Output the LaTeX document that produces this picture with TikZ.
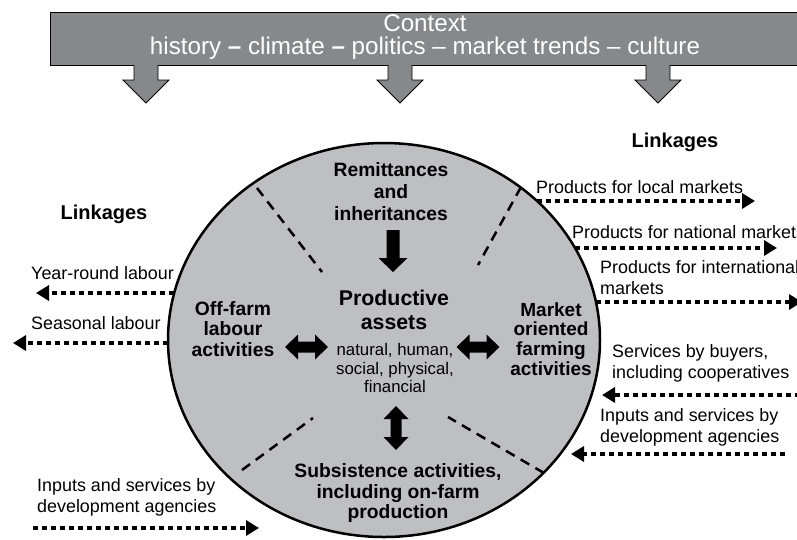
\documentclass[tikz,border=0pt]{standalone}
\usepackage{fontspec}
\setmainfont{Liberation Sans}
\usetikzlibrary{arrows.meta,shapes.geometric}
\definecolor{bannergray}{HTML}{87888B}
\definecolor{circlegray}{HTML}{BEBFC1}
\begin{document}
\begin{tikzpicture}[x=1pt,y=-1pt,
  linkarrow/.style={line width=4.5pt, dash pattern=on 5pt off 4pt, -{Triangle[length=13pt,width=15pt]}},
  lbl/.style={font=\fontsize{17.9}{21}\selectfont, inner sep=0pt, align=left, anchor=west},
  boldlbl/.style={font=\fontsize{19.3}{20.5}\selectfont\bfseries, align=center, inner sep=0pt},
  sector/.style={line width=2.5pt, dash pattern=on 10pt off 7pt},
  ctxarrow/.style={fill=bannergray, draw=black, line width=0.8pt},
  hdouble/.pic={\fill[black] (-21.5,0) -- (-8.5,-12.5) -- (-8.5,-5.5) -- (8.5,-5.5) -- (8.5,-12.5) -- (21.5,0) -- (8.5,12.5) -- (8.5,5.5) -- (-8.5,5.5) -- (-8.5,12.5) -- cycle;},
  vdouble/.pic={\fill[black] (0,-22) -- (12.5,-9) -- (5.5,-9) -- (5.5,9) -- (12.5,9) -- (0,22) -- (-12.5,9) -- (-5.5,9) -- (-5.5,-9) -- (-12.5,-9) -- cycle;}
]
\useasboundingbox (0,0) rectangle (797,539);

% context banner
\node[draw=black, fill=bannergray, line width=1pt, minimum width=760pt, minimum height=53pt, anchor=north west, inner sep=0pt] (banner) at (50,12) {};
\node[text=white, font=\fontsize{24.2}{23}\selectfont, align=center, inner sep=0pt] (ctx) at (425,37) {Context\\history \textbf{–} climate \textbf{–} politics – market trends – culture};
\foreach \cx in {146,400,658}{
  \draw[ctxarrow] (\cx-12,65) -- (\cx-12,80) -- (\cx-23,80) -- (\cx,103) -- (\cx+23,80) -- (\cx+12,80) -- (\cx+12,65);
}

% central ellipse
\node[draw=black, fill=circlegray, ellipse, line width=2.5pt, minimum width=432pt, minimum height=394pt, inner sep=0pt] (circ) at (384,340) {};

% sector dividers
\draw[sector] (257,188) -- (322,272);
\draw[sector] (521,187) -- (478,265);
\draw[sector] (242,470) -- (313,418);
\draw[sector] (544,473) -- (448,417);

% inner texts
\node[boldlbl, font=\fontsize{19.3}{22}\selectfont\bfseries] (remit) at (391,192) {Remittances\\and\\inheritances};
\node[boldlbl, font=\fontsize{21.3}{24}\selectfont\bfseries] (prod) at (394,310) {Productive\\assets};
\node[font=\fontsize{16.8}{18.5}\selectfont, align=center, inner sep=0pt] (capitals) at (395,368) {natural, human,\\social, physical,\\financial};
\node[boldlbl] (offfarm) at (233,329) {Off-farm\\labour\\activities};
\node[boldlbl, font=\fontsize{19}{19.7}\selectfont\bfseries] (market) at (551,339) {Market\\oriented\\farming\\activities};
\node[boldlbl] (subsist) at (398,493) {Subsistence activities,\\including on-farm\\production};

% inner block arrows
\fill[black] (386.5,230) -- (399.5,230) -- (399.5,258) -- (407.5,258) -- (393,272) -- (378.5,258) -- (386.5,258) -- cycle;
\pic at (306.5,347) {hdouble};
\pic at (478,347) {hdouble};
\pic at (396,428) {vdouble};

% linkages headings
\node[font=\fontsize{20}{22}\selectfont\bfseries, inner sep=0pt] (linkR) at (675,142) {Linkages};
\node[font=\fontsize{20}{22}\selectfont\bfseries, inner sep=0pt] (linkL) at (104,214) {Linkages};

% linkage labels
\node[lbl] (plocal) at (536,187) {Products for local markets};
\node[lbl] (pnat) at (572,232) {Products for national markets};
\node[lbl] (pint) at (600,277.5) {Products for international\\markets};
\node[lbl] (serv) at (612,363) {Services by buyers,\\including cooperatives};
\node[lbl] (inpR) at (600,427.5) {Inputs and services by\\development agencies};
\node[lbl] (year) at (31,273) {Year-round labour};
\node[lbl] (seas) at (31,323) {Seasonal labour};
\node[lbl] (inpL) at (37,497) {Inputs and services by\\development agencies};

% linkage arrow ends
\coordinate (a1s) at (537,201); \coordinate (a1e) at (755,201);
\coordinate (a2s) at (575,248); \coordinate (a2e) at (777,248);
\coordinate (a3s) at (596,302); \coordinate (a3e) at (802,302);
\coordinate (a4s) at (800,395); \coordinate (a4e) at (602,395);
\coordinate (a5s) at (785,454); \coordinate (a5e) at (571,454);
\coordinate (a6s) at (174,293); \coordinate (a6e) at (36,293);
\coordinate (a7s) at (168,343); \coordinate (a7e) at (13,343);
\coordinate (a8s) at (33,528); \coordinate (a8e) at (259,528);

\draw[linkarrow] (a1s) -- (a1e);
\draw[linkarrow] (a2s) -- (a2e);
\draw[linkarrow] (a3s) -- (a3e);
\draw[linkarrow] (a4s) -- (a4e);
\draw[linkarrow] (a5s) -- (a5e);
\draw[linkarrow] (a6s) -- (a6e);
\draw[linkarrow] (a7s) -- (a7e);
\draw[linkarrow] (a8s) -- (a8e);
\end{tikzpicture}
\end{document}
